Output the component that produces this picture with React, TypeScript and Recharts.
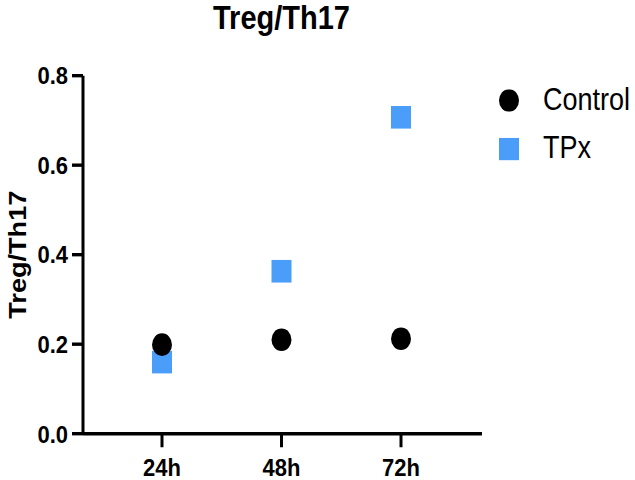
import { ScatterChart, Scatter, XAxis, YAxis, Label } from "recharts";

const times = ["24h", "48h", "72h"];
const controlValues = [0.199, 0.21, 0.212];
const tpxValues = [0.16, 0.363, 0.707];
const yTicks = [0, 0.2, 0.4, 0.6, 0.8];

const controlData = times.map((time, i) => ({ time, value: controlValues[i] }));
const tpxData = times.map((time, i) => ({ time, value: tpxValues[i] }));

const BLUE = "#4a9df8";
const FONT = "'Liberation Sans', Arial, sans-serif";

// chart is drawn a bit flatter and stretched back to 480px tall
const H = 425;
const STRETCH = 480 / H;

const series = [
  { name: "Control", color: "#000", shape: "circle" },
  { name: "TPx", color: BLUE, shape: "square" },
];

const Dot = (props: any) => (
  <circle cx={props.cx} cy={props.cy} r={10} fill="#000" />
);

const Square = (props: any) => (
  <rect x={props.cx - 10} y={props.cy - 10} width={20} height={20} fill={BLUE} />
);

const YLabel = (props: any) => {
  const { x, y, height } = props.viewBox;
  const cx = x - 5;
  const cy = y + height / 2;
  return (
    <text
      x={cx}
      y={cy}
      transform={`rotate(-90, ${cx}, ${cy})`}
      textAnchor="middle"
      dominantBaseline="central"
      fontFamily={FONT}
      fontWeight={700}
      fontSize={24}
      fill="#000"
    >
      Treg/Th17
    </text>
  );
};

const tickStyle = { fill: "#000", fontSize: 22, fontWeight: 700, fontFamily: FONT };

export default function App() {
  return (
    <div
      style={{
        position: "absolute",
        left: 0,
        top: 0,
        width: 635,
        height: H,
        background: "#fff",
        transform: `scaleY(${STRETCH})`,
        transformOrigin: "0 0",
      }}
    >
      <div
        style={{
          position: "absolute",
          left: 0,
          top: 0,
          width: 563,
          textAlign: "center",
          fontFamily: FONT,
          fontWeight: 700,
          fontSize: 29,
          lineHeight: "32px",
        }}
      >
        Treg/Th17
      </div>

      <ScatterChart
        width={635}
        height={H}
        margin={{ top: 67, right: 153, bottom: 0, left: 23 }}
      >
        <XAxis
          dataKey="time"
          type="category"
          allowDuplicatedCategory={false}
          scale="point"
          padding={{ left: 79, right: 81 }}
          height={41}
          axisLine={{ stroke: "#000", strokeWidth: 3 }}
          tickLine={{ stroke: "#000", strokeWidth: 3 }}
          tickSize={12}
          tickMargin={10}
          tick={tickStyle}
        />
        <YAxis
          dataKey="value"
          type="number"
          domain={[0, 0.8]}
          ticks={yTicks}
          tickFormatter={(v: number) => v.toFixed(1)}
          width={60}
          axisLine={{ stroke: "#000", strokeWidth: 3 }}
          tickLine={{ stroke: "#000", strokeWidth: 3 }}
          tickSize={11}
          tickMargin={4}
          tick={tickStyle}
        >
          <Label content={YLabel} />
        </YAxis>
        {/* TPx first so the Control dots sit on top */}
        <Scatter name="TPx" data={tpxData} shape={Square} isAnimationActive={false} />
        <Scatter name="Control" data={controlData} shape={Dot} isAnimationActive={false} />
      </ScatterChart>

      <div style={{ position: "absolute", left: 499, top: 74, fontFamily: FONT, fontSize: 27 }}>
        {series.map((s) => (
          <div key={s.name} style={{ display: "flex", alignItems: "center", height: 29, marginBottom: 14 }}>
            <svg width={20} height={20} style={{ marginRight: 24 }}>
              {s.shape === "circle" ? (
                <circle cx={10} cy={10} r={10} fill={s.color} />
              ) : (
                <rect x={0} y={0} width={20} height={20} fill={s.color} />
              )}
            </svg>
            <span style={{ whiteSpace: "nowrap" }}>{s.name}</span>
          </div>
        ))}
      </div>
    </div>
  );
}
